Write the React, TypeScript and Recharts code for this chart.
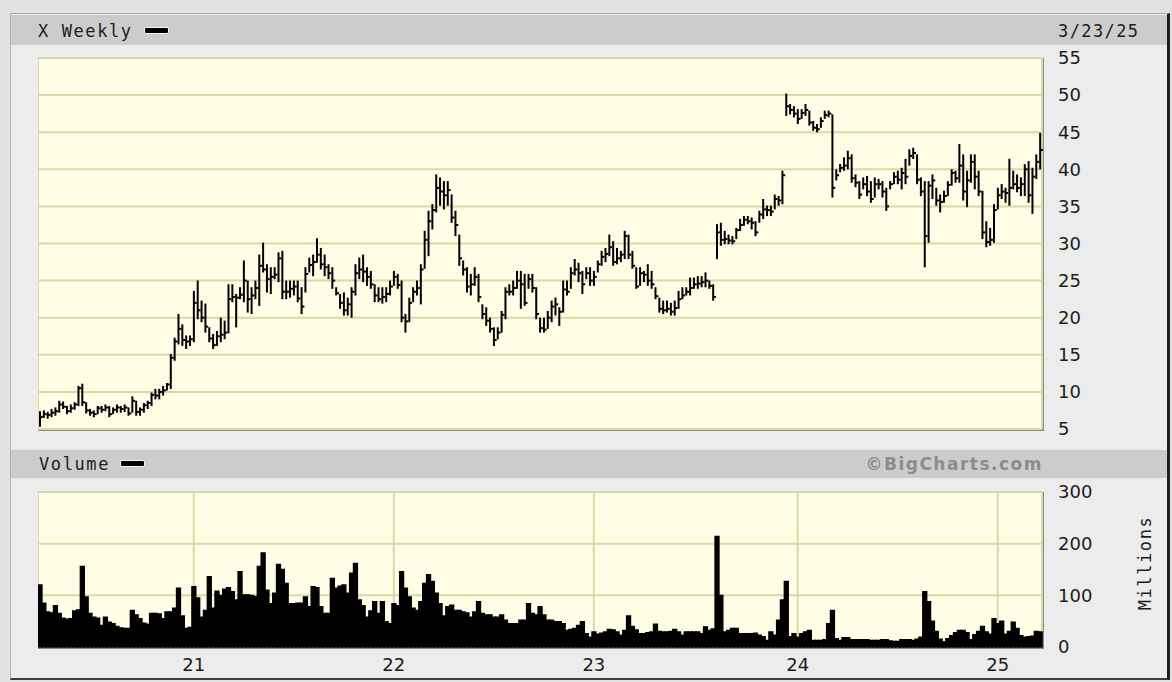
import React from "react";
import { Bar, CartesianGrid, ComposedChart, XAxis, YAxis } from "recharts";

// weekly bars, the first week starts Monday 2020-03-23
const firstWeek = "2020-03-23";

const high = [
  7.3, 7.4, 7.2, 7.6, 7.8, 8.7, 8.6, 8.0, 8.2, 8.5,
  10.7, 11.0, 8.5, 7.6, 7.4, 8.0, 8.0, 8.2, 8.0, 7.8,
  8.2, 8.0, 8.2, 7.8, 9.3, 8.7, 7.8, 8.4, 8.7, 9.8,
  10.3, 10.3, 10.7, 11.1, 15.0, 17.2, 20.4, 19.0, 17.5, 17.5,
  23.5, 24.9, 22.2, 21.8, 18.6, 17.7, 18.1, 19.9, 19.5, 24.4,
  24.4, 23.1, 24.0, 27.6, 24.9, 24.0, 24.9, 28.4, 30.0, 27.1,
  26.7, 26.7, 28.7, 28.9, 24.9, 24.9, 24.9, 24.9, 24.0, 26.7,
  28.0, 28.4, 30.6, 29.3, 28.4, 27.1, 26.7, 24.0, 23.1, 23.3,
  22.6, 24.0, 27.1, 28.0, 28.4, 26.7, 26.2, 24.4, 24.0, 24.0,
  24.0, 24.9, 26.2, 25.8, 24.9, 20.4, 22.6, 24.0, 24.9, 27.1,
  31.6, 34.3, 35.2, 39.2, 38.8, 38.3, 38.3, 36.5, 34.3, 31.1,
  27.6, 26.7, 25.8, 26.7, 25.8, 21.7, 21.3, 19.9, 18.6, 18.6,
  20.8, 24.0, 24.4, 24.9, 26.2, 26.2, 25.8, 25.8, 25.8, 24.0,
  19.9, 19.9, 20.8, 22.2, 22.6, 21.3, 24.9, 24.9, 26.7, 27.8,
  27.3, 26.2, 26.7, 26.7, 26.2, 27.6, 28.9, 29.3, 31.1, 30.2,
  29.3, 28.9, 31.6, 31.1, 28.9, 26.7, 26.7, 26.2, 27.1, 26.2,
  24.0, 22.6, 22.2, 22.2, 21.9, 22.2, 23.5, 24.0, 24.0, 25.3,
  25.3, 25.5, 25.5, 26.0, 24.9, 24.4, 32.5, 32.7, 31.6, 31.1,
  30.9, 32.0, 33.2, 33.6, 33.6, 33.4, 32.9, 34.3, 35.9, 35.0,
  35.0, 36.5, 36.3, 39.7, 50.1, 48.7, 48.4, 48.0, 48.0, 48.7,
  47.8, 46.4, 46.0, 46.9, 47.8, 47.8, 47.3, 39.9, 40.6, 41.5,
  42.4, 41.9, 39.2, 38.3, 38.8, 39.0, 38.3, 38.8, 38.6, 38.3,
  37.4, 38.3, 39.5, 39.7, 40.1, 41.3, 42.6, 42.8, 41.9, 38.8,
  38.3, 38.3, 39.2, 37.4, 36.5, 37.0, 38.3, 39.9, 39.7, 43.3,
  41.9, 39.7, 41.9, 41.9, 39.7, 37.0, 32.9, 32.0, 35.2, 37.4,
  37.9, 37.4, 41.3, 39.7, 39.2, 38.8, 40.6, 41.0, 40.1, 41.9,
  44.8,
];

const low = [
  5.4, 6.6, 6.5, 6.7, 6.9, 7.3, 7.8, 7.1, 7.3, 7.7,
  8.2, 8.2, 7.2, 6.9, 6.7, 7.1, 7.3, 7.5, 6.7, 7.1,
  7.3, 7.3, 7.4, 6.9, 7.3, 6.9, 6.9, 7.3, 7.8, 8.2,
  9.1, 9.1, 9.6, 10.3, 10.5, 14.3, 16.5, 16.3, 15.9, 16.3,
  16.8, 19.9, 19.5, 18.1, 16.8, 15.9, 16.3, 16.8, 17.2, 18.0,
  22.2, 18.8, 22.6, 22.2, 20.8, 20.6, 22.6, 21.7, 26.2, 23.5,
  23.3, 25.3, 24.9, 22.6, 22.6, 22.8, 23.1, 22.2, 20.6, 23.5,
  26.2, 25.7, 27.5, 26.6, 25.7, 25.3, 24.0, 23.1, 21.3, 20.4,
  20.4, 20.1, 23.1, 25.3, 24.9, 24.4, 24.0, 22.2, 22.2, 22.0,
  22.2, 23.1, 24.4, 24.0, 19.5, 18.1, 19.5, 22.2, 23.1, 21.9,
  26.7, 28.4, 32.0, 34.3, 35.2, 34.7, 35.2, 32.9, 31.1, 27.1,
  25.8, 23.5, 23.1, 24.4, 22.2, 19.9, 19.0, 18.1, 16.3, 17.2,
  18.1, 19.9, 23.1, 23.1, 24.0, 21.3, 21.7, 24.0, 23.5, 19.9,
  18.1, 18.1, 18.6, 19.5, 20.4, 19.0, 20.8, 23.1, 24.0, 25.8,
  24.9, 23.3, 25.3, 24.4, 24.4, 26.2, 27.1, 27.6, 28.4, 27.1,
  27.3, 27.6, 28.0, 28.0, 26.7, 24.0, 24.4, 24.9, 24.4, 24.0,
  22.6, 20.8, 20.6, 20.8, 20.4, 20.4, 21.3, 22.6, 23.1, 23.1,
  24.0, 24.0, 24.2, 24.2, 24.0, 22.4, 28.0, 29.8, 30.0, 30.0,
  30.0, 30.7, 31.8, 32.5, 32.7, 32.0, 31.1, 32.9, 33.4, 33.8,
  33.8, 34.7, 35.2, 35.4, 47.3, 47.5, 47.1, 46.2, 46.9, 47.3,
  46.0, 45.3, 45.1, 45.7, 46.9, 47.1, 36.3, 38.6, 39.7, 39.9,
  40.1, 38.3, 37.7, 36.1, 37.4, 36.5, 35.6, 36.3, 37.4, 36.3,
  34.5, 37.4, 38.1, 38.1, 37.4, 38.1, 40.6, 41.5, 38.1, 36.5,
  26.9, 30.2, 36.1, 35.2, 34.3, 35.6, 36.5, 37.9, 38.3, 38.3,
  35.9, 35.0, 38.3, 37.4, 36.5, 30.7, 29.6, 29.8, 30.2, 34.7,
  36.1, 35.6, 35.2, 37.4, 37.0, 36.5, 36.5, 35.6, 34.1, 38.8,
  40.1,
];

const close = [
  6.6, 7.0, 6.9, 7.2, 7.4, 8.3, 8.0, 7.4, 7.8, 8.3,
  10.5, 8.6, 7.5, 7.2, 7.0, 7.8, 7.6, 7.9, 7.0, 7.6,
  7.9, 7.7, 7.9, 7.1, 8.8, 7.3, 7.6, 8.2, 8.5, 9.6,
  9.5, 10.0, 10.2, 11.0, 14.6, 16.8, 18.5, 17.0, 16.8, 17.1,
  22.0, 21.0, 20.0, 18.8, 17.2, 16.3, 17.5, 17.7, 18.0, 22.5,
  22.8, 22.7, 23.1, 25.0, 22.5, 23.0, 24.0, 27.0, 26.5, 25.2,
  25.5, 25.8, 28.0, 23.5, 23.5, 23.9, 24.2, 22.6, 21.5, 25.9,
  27.1, 27.5, 28.5, 27.2, 26.8, 26.0, 25.0, 23.3, 22.0, 21.0,
  21.8, 23.5, 26.0, 26.5, 26.2, 25.5, 24.5, 23.0, 22.5, 22.8,
  23.2, 24.2, 25.5, 24.4, 20.0, 19.5, 22.0, 23.5, 24.0, 26.5,
  30.5, 33.0, 34.5, 37.5, 37.0, 36.5, 37.2, 33.5, 32.5, 28.0,
  26.5, 24.2, 24.5, 25.5, 22.8, 20.5, 19.6, 18.5, 17.0, 18.0,
  20.4, 23.5, 23.5, 24.0, 25.0, 24.5, 22.0, 25.2, 24.0, 20.5,
  18.6, 18.4, 20.0, 21.5, 21.8, 20.8, 23.8, 23.5, 26.0, 26.5,
  26.0, 24.5, 26.0, 25.0, 25.5, 27.2, 28.2, 28.6, 29.5, 27.5,
  28.0, 28.5, 31.0, 28.5, 27.0, 24.2, 26.0, 25.8, 25.0, 24.5,
  22.9, 21.2, 21.0, 21.2, 20.8, 21.3, 22.5, 23.0, 23.5, 24.0,
  24.5, 24.6, 24.8, 25.0, 24.3, 22.8, 31.5, 30.5, 30.6, 30.4,
  30.3, 31.8, 32.5, 33.2, 33.0, 32.8, 31.5, 33.9, 34.6, 34.5,
  34.3, 36.0, 35.8, 39.2, 48.5, 48.0, 47.5, 46.8, 47.6, 48.0,
  46.3, 45.6, 45.4, 46.5, 47.3, 47.5, 37.5, 39.2, 40.2, 40.5,
  41.5, 38.8, 38.2, 36.6, 38.0, 37.0, 36.0, 38.0, 38.0, 37.0,
  35.0, 38.0, 39.0, 38.6, 39.5, 39.0, 41.8, 42.2, 38.6, 37.0,
  31.0, 37.8, 38.5, 35.8, 35.6, 36.4, 37.9, 39.5, 38.8, 40.5,
  37.0, 38.5, 41.0, 39.0, 37.0, 31.5, 30.2, 30.5, 34.5, 36.5,
  37.0, 36.8, 37.5, 38.0, 37.5, 38.0, 40.0, 36.5, 39.0, 41.0,
  42.6,
];

// weekly volume, millions of shares
const volume = [
  120, 85, 68, 66, 80, 65, 56, 54, 55, 70,
  72, 156, 97, 65, 58, 56, 42, 58, 48, 45,
  40, 37, 36, 36, 71, 62, 55, 46, 44, 65,
  65, 64, 55, 68, 68, 75, 114, 60, 36, 38,
  117, 95, 58, 71, 136, 75, 108, 100, 112, 115,
  107, 91, 146, 101, 101, 100, 98, 156, 182, 110,
  84, 104, 160, 150, 123, 84, 84, 85, 85, 97,
  78, 117, 115, 78, 65, 65, 133, 114, 118, 120,
  104, 143, 162, 91, 80, 58, 70, 88, 65, 88,
  49, 45, 84, 80, 146, 114, 97, 75, 71, 88,
  123, 140, 127, 104, 84, 60, 78, 81, 71, 71,
  68, 66, 58, 68, 88, 65, 62, 62, 58, 58,
  62, 52, 45, 45, 45, 52, 52, 84, 65, 62,
  78, 62, 52, 52, 49, 49, 45, 32, 34, 36,
  42, 49, 26, 19, 29, 25, 27, 29, 34, 33,
  29, 23, 32, 60, 40, 33, 26, 26, 28, 29,
  44, 30, 29, 29, 30, 34, 29, 23, 29, 29,
  29, 29, 26, 39, 32, 35, 214, 100, 29, 32,
  36, 36, 26, 26, 26, 26, 27, 23, 20, 13,
  29, 23, 52, 91, 127, 20, 26, 19, 26, 29,
  32, 13, 13, 13, 14, 45, 71, 16, 13, 18,
  18, 14, 14, 14, 14, 14, 13, 13, 13, 14,
  14, 12, 11, 11, 14, 14, 14, 13, 15, 19,
  107, 88, 50, 30, 15, 10, 16, 22, 28, 32,
  32, 28, 14, 24, 30, 40, 29, 25, 55, 45,
  50, 25, 30, 48, 36, 22, 19, 20, 21, 30,
  29,
];

const priceTicks = [5, 10, 15, 20, 25, 30, 35, 40, 45, 50, 55];
const volumeTicks = [0, 100, 200, 300];

const DAY = 86400000;
const weeks = high.map((_, i) =>
  new Date(Date.parse(firstWeek) + i * 7 * DAY).toISOString().slice(0, 10)
);
// a year line sits on the week that holds January 1st
const yearTicks = weeks.filter((w) => {
  const sunday = new Date(Date.parse(w) + 6 * DAY);
  return sunday.getUTCMonth() === 0 && sunday.getUTCDate() <= 7;
});
const yearLabel = (w: string) =>
  String(new Date(Date.parse(w) + 6 * DAY).getUTCFullYear()).slice(2);

const data = weeks.map((week, i) => ({
  week,
  range: [low[i], high[i]],
  close: close[i],
  volume: volume[i],
}));

const mono = "'DejaVu Sans Mono', monospace";
const sans = "'DejaVu Sans', Verdana, sans-serif";
const gridColor = "#d9d9a8";
const plotBg = "#fffde6";
const axisTick = { fill: "#1c1c1c", fontSize: 18, fontFamily: sans };

// high-low bar with the close tick on the right
const HlcBar = (props: any) => {
  const { x, y, width, height, payload } = props;
  if (x == null || y == null || !payload) return null;
  const top = Math.min(y, y + height);
  const bottom = Math.max(y, y + height);
  const [lo, hi] = payload.range;
  const mid = x + width / 2;
  const yClose = hi === lo ? top : top + ((hi - payload.close) / (hi - lo)) * (bottom - top);
  return (
    <g stroke="#000" strokeWidth={2}>
      <line x1={mid} x2={mid} y1={top - 0.8} y2={bottom + 0.8} />
      <line x1={mid} x2={mid + 2.8} y1={yClose} y2={yClose} />
    </g>
  );
};

const Dash = ({ left, top }: { left: number; top: number }) => (
  <div
    style={{
      position: "absolute",
      left,
      top,
      width: 23,
      height: 5,
      background: "#000",
      border: "1px solid #f4f4f4",
      borderRadius: 2,
    }}
  />
);

const label = (left: number, top: number, text: string, extra: React.CSSProperties = {}) => (
  <div
    style={{
      position: "absolute",
      left,
      top,
      transform: "translateY(-50%)",
      fontFamily: mono,
      fontSize: 17,
      letterSpacing: 1.6,
      lineHeight: 1,
      color: "#1c1c1c",
      whiteSpace: "nowrap",
      ...extra,
    }}
  >
    {text}
  </div>
);

const App = () => {
  return (
    <div style={{ position: "relative", width: 1172, height: 682, background: "#e2e2e2", overflow: "hidden" }}>
      <style>{"body{margin:0}"}</style>

      {/* frame */}
      <div
        style={{
          position: "absolute",
          left: 10,
          top: 13,
          width: 1160,
          height: 667,
          boxSizing: "border-box",
          background: "#ececec",
          borderTop: "1px solid #a8a8a8",
          borderLeft: "1px solid #b4b4b4",
          borderRight: "3px solid #1e1e1e",
          borderBottom: "2px solid #3a3a3a",
        }}
      />
      <div style={{ position: "absolute", left: 11, top: 15, width: 1156, height: 30, background: "#cccccc" }} />
      <div style={{ position: "absolute", left: 11, top: 450, width: 1156, height: 28, background: "#cccccc" }} />

      {label(38, 31, "X Weekly")}
      <Dash left={144} top={27} />
      {label(1058, 31, "3/23/25", { letterSpacing: 1.4 })}

      {label(39, 464, "Volume")}
      <Dash left={120} top={460} />
      <div
        style={{
          position: "absolute",
          right: 129,
          top: 464,
          transform: "translateY(-50%)",
          fontFamily: sans,
          fontWeight: "bold",
          fontSize: 17,
          letterSpacing: 1.5,
          lineHeight: 1,
          color: "#8c8c8c",
          whiteSpace: "nowrap",
        }}
      >
        ©BigCharts.com
      </div>

      {/* price panel */}
      <div
        style={{
          position: "absolute",
          left: 38,
          top: 58,
          width: 1006,
          height: 373,
          boxSizing: "border-box",
          background: plotBg,
          borderRight: "2px solid #8a8a8a",
          borderBottom: "2px solid #8a8a8a",
        }}
      />
      <div style={{ position: "absolute", left: 38, top: 48 }}>
        <ComposedChart
          width={1074}
          height={391}
          data={data}
          barCategoryGap={0}
          barGap={0}
          margin={{ top: 10, right: 0, bottom: 10, left: 0 }}
        >
          <CartesianGrid stroke={gridColor} strokeWidth={2} />
          <XAxis
            dataKey="week"
            ticks={yearTicks}
            interval={0}
            tick={false}
            tickLine={false}
            axisLine={false}
            height={0}
          />
          <YAxis
            orientation="right"
            domain={[5, 55]}
            ticks={priceTicks}
            interval={0}
            width={70}
            tickLine={false}
            axisLine={false}
            tickSize={0}
            tickMargin={16}
            tick={axisTick}
          />
          <Bar dataKey="range" shape={HlcBar} isAnimationActive={false} />
        </ComposedChart>
      </div>

      {/* volume panel */}
      <div
        style={{
          position: "absolute",
          left: 38,
          top: 492,
          width: 1006,
          height: 157,
          boxSizing: "border-box",
          background: plotBg,
          borderRight: "2px solid #8a8a8a",
          borderBottom: "2px solid #8a8a8a",
        }}
      />
      <div style={{ position: "absolute", left: 38, top: 482 }}>
        <ComposedChart
          width={1074}
          height={195}
          data={data}
          barCategoryGap={0}
          barGap={0}
          margin={{ top: 10, right: 0, bottom: 0, left: 0 }}
        >
          <CartesianGrid stroke={gridColor} strokeWidth={2} />
          <XAxis
            dataKey="week"
            ticks={yearTicks}
            interval={0}
            tickFormatter={yearLabel}
            tickLine={false}
            axisLine={false}
            tickSize={0}
            tickMargin={11}
            height={30}
            tick={axisTick}
          />
          <YAxis
            orientation="right"
            domain={[0, 300]}
            ticks={volumeTicks}
            interval={0}
            width={70}
            tickLine={false}
            axisLine={false}
            tickSize={0}
            tickMargin={16}
            tick={axisTick}
          />
          <Bar dataKey="volume" fill="#000" stroke="#000" strokeWidth={1.3} isAnimationActive={false} />
        </ComposedChart>
      </div>

      <div
        style={{
          position: "absolute",
          left: 1145,
          top: 563,
          transform: "translate(-50%, -50%) rotate(-90deg)",
          fontFamily: mono,
          fontSize: 17,
          letterSpacing: 1.6,
          lineHeight: 1,
          color: "#1c1c1c",
          whiteSpace: "nowrap",
        }}
      >
        Millions
      </div>
    </div>
  );
};

export default App;
